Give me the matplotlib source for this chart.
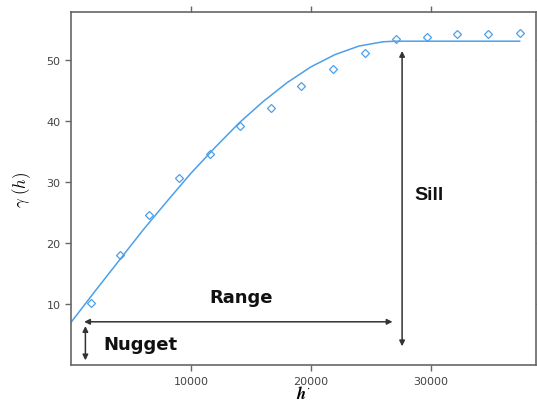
import numpy as np
import matplotlib
matplotlib.use("Agg")
import matplotlib.pyplot as plt

plt.rcParams['mathtext.fontset'] = 'cm'

lag = [1700, 4100, 6500, 9000, 11600, 14100, 16700, 19200, 21800, 24500,
       27100, 29700, 32200, 34800, 37400]
gamma = [10.1, 18.1, 24.6, 30.7, 34.6, 39.2, 42.1, 45.6, 48.5, 51.0,
         53.3, 53.7, 54.1, 54.2, 54.4]

# fitted model line
fit_h = [0, 2000, 4000, 6000, 8000, 10000, 12000, 14000, 16000, 18000,
         20000, 22000, 24000, 26000, 27000, 37400]
fit_g = [7.0, 12.1, 17.1, 22.1, 26.8, 31.4, 35.6, 39.6, 43.1, 46.2,
         48.8, 50.8, 52.2, 52.9, 53.0, 53.0]

blue = '#4d9fea'
axc = '#666666'

fig = plt.figure(figsize=(5.37, 4.10), dpi=100)
ax = fig.add_axes([0.1322, 0.1068, 0.8668, 0.8604])

ax.plot(fit_h, fit_g, color=blue, lw=1.1)
ax.plot(lag, gamma, linestyle='none', marker='D', markersize=3.8,
        markerfacecolor='none', markeredgecolor=blue, markeredgewidth=0.9)

ax.set_xlim(0, 38800)
ax.set_ylim(0, 57.7)
ax.set_xticks([10000, 20000, 30000])
ax.set_yticks([10, 20, 30, 40, 50])

for s in ax.spines.values():
    s.set_color(axc)
    s.set_linewidth(1.2)
ax.tick_params(direction='out', length=4, width=1, color=axc,
               labelsize=8, labelcolor='#444444',
               top=True, right=True, labeltop=False, labelright=False)

ax.set_ylabel(r'$\gamma\ (h)$', fontsize=12, labelpad=10)
ax.set_xlabel(r"$\boldsymbol{h}^{\cdot}$", fontsize=12, labelpad=-1)

arr = dict(arrowstyle='<|-|>', color='#333333', lw=1.1,
           mutation_scale=8, shrinkA=0, shrinkB=0)
# nugget
ax.annotate('', xy=(1200, 0.8), xytext=(1200, 6.4), arrowprops=arr)
# range
ax.annotate('', xy=(1100, 7.1), xytext=(26800, 7.1), arrowprops=arr)
# sill
ax.annotate('', xy=(27600, 3.1), xytext=(27600, 51.4), arrowprops=arr)

ax.text(14170, 11.1, 'Range', fontsize=13, fontweight='bold',
        ha='center', va='center', color='#111111')
ax.text(5830, 3.4, 'Nugget', fontsize=13, fontweight='bold',
        ha='center', va='center', color='#111111')
ax.text(29875, 28.0, 'Sill', fontsize=14, fontweight='bold',
        family='Liberation Sans', ha='center', va='center', color='#111111')

fig.savefig('out.png', dpi=100)
